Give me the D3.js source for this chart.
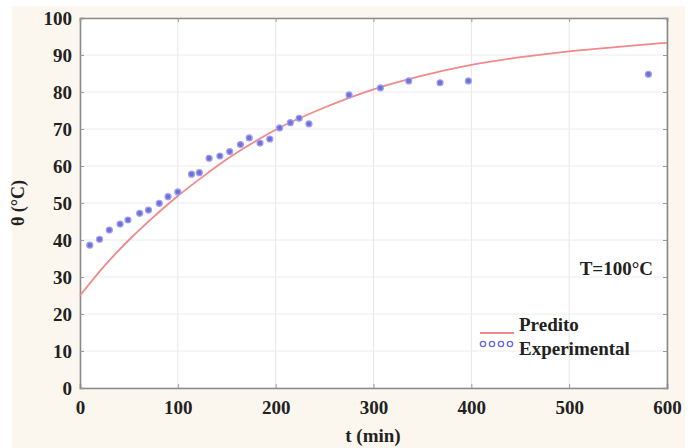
<!DOCTYPE html>
<html>
<head>
<meta charset="utf-8">
<script src="https://cdn.jsdelivr.net/npm/d3@7"></script>
<style>
  html, body { margin: 0; padding: 0; background: #fff; }
  svg { display: block; }
  text { font-family: "Liberation Serif", "Times New Roman", serif; font-weight: bold; fill: #222; }
</style>
</head>
<body>
<svg width="700" height="448"></svg>
<script>
// experimental points
const expT = [10, 20, 30, 41, 49, 61, 70, 81, 90, 100, 114, 122, 132, 143, 153, 164, 173, 184, 194, 204, 215, 224, 234, 275, 307, 336, 368, 397, 581];
const expTheta = [38.6, 40.2, 42.7, 44.3, 45.4, 47.2, 48.1, 49.9, 51.7, 53, 57.8, 58.2, 62.1, 62.7, 63.9, 65.8, 67.6, 66.2, 67.3, 70.3, 71.7, 72.9, 71.4, 79.2, 81.1, 83, 82.5, 83, 84.8];

// predicted curve
const predT = [0, 25, 50, 75, 100, 125, 150, 175, 200, 250, 300, 350, 400, 450, 500, 550, 600];
const predTheta = [25, 33, 40, 46.2, 51.9, 57, 61.8, 66, 69.8, 75.8, 80.7, 84.4, 87.3, 89.4, 91, 92.2, 93.3];

const xTicks = [0, 100, 200, 300, 400, 500, 600];
const yTicks = [0, 10, 20, 30, 40, 50, 60, 70, 80, 90, 100];

const svg = d3.select("svg");
const mLeft = 80, mRight = 667, mTop = 18, mBottom = 388;

svg.append("rect")
  .attr("x", 12).attr("y", 6)
  .attr("width", 673).attr("height", 442)
  .attr("fill", "#fcf7ee");

svg.append("rect")
  .attr("x", mLeft).attr("y", mTop)
  .attr("width", mRight - mLeft).attr("height", mBottom - mTop)
  .attr("fill", "#fff");

const x = d3.scaleLinear().domain([0, 600]).range([mLeft, mRight]);
const y = d3.scaleLinear().domain([0, 100]).range([mBottom, mTop]);

// grid
svg.append("g")
  .selectAll("line")
  .data(xTicks)
  .join("line")
  .attr("x1", d => x(d)).attr("x2", d => x(d))
  .attr("y1", mTop).attr("y2", mBottom)
  .attr("stroke", "#e6e6e6");

svg.append("g")
  .selectAll("line")
  .data(yTicks)
  .join("line")
  .attr("x1", mLeft).attr("x2", mRight)
  .attr("y1", d => y(d)).attr("y2", d => y(d))
  .attr("stroke", "#ececec");

// axes
svg.append("g")
  .attr("transform", `translate(0, ${mBottom})`)
  .call(d3.axisBottom(x).tickValues(xTicks).tickSize(-4).tickPadding(13));
svg.append("g")
  .attr("transform", `translate(${mLeft}, 0)`)
  .call(d3.axisLeft(y).tickValues(yTicks).tickSize(-4).tickPadding(8));
svg.append("g")
  .attr("transform", `translate(0, ${mTop})`)
  .call(d3.axisTop(x).tickValues(xTicks).tickSize(-4).tickFormat(""));
svg.append("g")
  .attr("transform", `translate(${mRight}, 0)`)
  .call(d3.axisRight(y).tickValues(yTicks).tickSize(-4).tickFormat(""));

svg.selectAll(".domain").attr("stroke", "#8a8a8a").attr("stroke-width", 1.6);
svg.selectAll(".tick line").attr("stroke", "#999");
svg.selectAll(".tick text")
  .attr("font-size", 19)
  .attr("font-family", "Liberation Serif, serif")
  .attr("font-weight", "bold")
  .attr("fill", "#222");

// predicted curve
const line = d3.line()
  .x((d, i) => x(predT[i]))
  .y(d => y(d))
  .curve(d3.curveMonotoneX);

svg.append("path")
  .datum(predTheta)
  .attr("d", line)
  .attr("fill", "none")
  .attr("stroke", "#f08a8a")
  .attr("stroke-width", 1.8);

// experimental points
svg.append("g")
  .selectAll("circle")
  .data(expTheta)
  .join("circle")
  .attr("cx", (d, i) => x(expT[i]))
  .attr("cy", d => y(d))
  .attr("r", 3)
  .attr("fill", "#7070da")
  .attr("stroke", "#a0a0f2")
  .attr("stroke-width", 1.2);

// labels
svg.append("text")
  .attr("x", 653).attr("y", 275)
  .attr("text-anchor", "end")
  .attr("font-size", 19)
  .text("T=100°C");

// legend
svg.append("line")
  .attr("x1", 480).attr("x2", 514)
  .attr("y1", 333).attr("y2", 333)
  .attr("stroke", "#f08a8a").attr("stroke-width", 2);
svg.append("text").attr("x", 519).attr("y", 331).attr("font-size", 19).text("Predito");

svg.append("g")
  .selectAll("circle")
  .data([0, 1, 2, 3])
  .join("circle")
  .attr("cx", d => 483 + d * 9)
  .attr("cy", 344)
  .attr("r", 2.6)
  .attr("fill", "none")
  .attr("stroke", "#6a6ae0")
  .attr("stroke-width", 1.4);
svg.append("text").attr("x", 519).attr("y", 355).attr("font-size", 19).text("Experimental");

svg.append("text")
  .attr("x", 373).attr("y", 442)
  .attr("text-anchor", "middle")
  .attr("font-size", 19)
  .text("t (min)");

svg.append("text")
  .attr("transform", "translate(24, 203) rotate(-90)")
  .attr("text-anchor", "middle")
  .attr("font-size", 18)
  .text("θ (°C)");
</script>
</body>
</html>
